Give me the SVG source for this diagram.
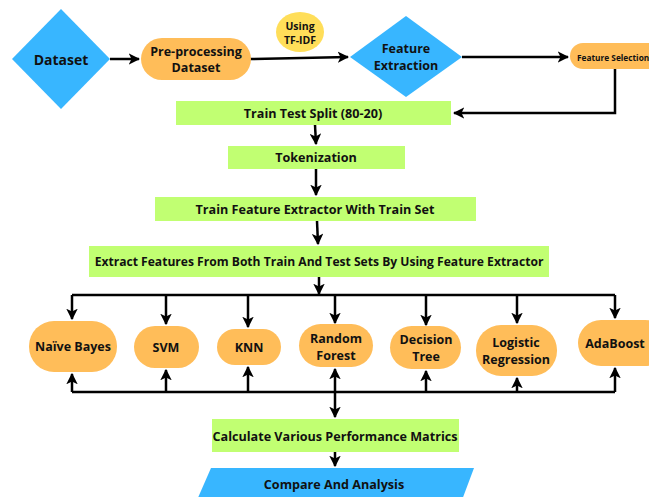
<svg xmlns="http://www.w3.org/2000/svg" width="649" height="497" viewBox="0 0 649 497">
<defs>
<style>
.t{font-family:"Open Sans","Noto Sans","DejaVu Sans",sans-serif;font-weight:700;fill:#111;text-anchor:middle;dominant-baseline:central}
.blue{fill:#38B6FF}
.orange{fill:#FFBD59}
.yellow{fill:#FFDE59}
.green{fill:#C1FF72}
.c{fill:none;stroke:#000;stroke-width:2.5}
</style>
<marker id="ah" viewBox="0 0 10 10" refX="9" refY="5" markerWidth="4.6" markerHeight="4.6" orient="auto" markerUnits="strokeWidth">
<path d="M0,0 L10,5 L0,10 L2.5,5 Z" fill="#000"/>
</marker>
</defs>
<rect width="649" height="497" fill="#fff"/>
<g id="connectors">
<path class="c" d="M110,59 L139,59" marker-end="url(#ah)"/>
<path class="c" d="M250,59 L348,57" marker-end="url(#ah)"/>
<path class="c" d="M462,57 L568,57" marker-end="url(#ah)"/>
<path class="c" d="M615,69 L615,113 L454,113" marker-end="url(#ah)"/>
<path class="c" d="M315,125 L316,144" marker-end="url(#ah)"/>
<path class="c" d="M316,169 L316,195" marker-end="url(#ah)"/>
<path class="c" d="M317,221 L318,244" marker-end="url(#ah)"/>
<path class="c" d="M319,277 L319,294" marker-end="url(#ah)"/>
<path class="c" d="M72,295 L615,295"/>
<path class="c" d="M72,295 L72,319" marker-end="url(#ah)"/>
<path class="c" d="M166,295 L166,324" marker-end="url(#ah)"/>
<path class="c" d="M248,295 L248,327" marker-end="url(#ah)"/>
<path class="c" d="M335,295 L335,323" marker-end="url(#ah)"/>
<path class="c" d="M426,295 L426,325" marker-end="url(#ah)"/>
<path class="c" d="M517,295 L517,323" marker-end="url(#ah)"/>
<path class="c" d="M615,295 L615,318" marker-end="url(#ah)"/>
<path class="c" d="M72,392 L615,392"/>
<path class="c" d="M72,392 L72,374" marker-end="url(#ah)"/>
<path class="c" d="M166,392 L166,370" marker-end="url(#ah)"/>
<path class="c" d="M248,392 L248,367" marker-end="url(#ah)"/>
<path class="c" d="M335,392 L335,369" marker-end="url(#ah)"/>
<path class="c" d="M426,392 L426,371" marker-end="url(#ah)"/>
<path class="c" d="M517,392 L517,378" marker-end="url(#ah)"/>
<path class="c" d="M615,392 L615,368" marker-end="url(#ah)"/>
<path class="c" d="M335,392 L335,417" marker-end="url(#ah)"/>
<path class="c" d="M335,452 L335,466" marker-end="url(#ah)"/>
</g>
<g id="dataset">
<polygon class="blue" points="61,9 110,59 61,109 12,59"/>
<text class="t" x="61" y="59" font-size="14">Dataset</text>
</g>
<g id="preprocessing">
<rect class="orange" x="141" y="38" width="110" height="42" rx="21"/>
<text class="t" x="196" y="51" font-size="12.5">Pre-processing</text>
<text class="t" x="196" y="67" font-size="12.5">Dataset</text>
</g>
<g id="tfidf">
<ellipse class="yellow" cx="300" cy="32" rx="24" ry="20"/>
<text class="t" x="300" y="26" font-size="10.5">Using</text>
<text class="t" x="300" y="40" font-size="10.5">TF-IDF</text>
</g>
<g id="feature-extraction">
<polygon class="blue" points="406,16 462,57 406,97 350,57"/>
<text class="t" x="406" y="48" font-size="12.5">Feature</text>
<text class="t" x="406" y="65" font-size="12.5">Extraction</text>
</g>
<g id="feature-selection">
<rect class="orange" x="570" y="43" width="100" height="26" rx="13"/>
<text class="t" x="577" y="57" font-size="8.3" style="text-anchor:start">Feature Selection</text>
</g>
<g id="train-test-split">
<rect class="green" x="176" y="101" width="275" height="24"/>
<text class="t" x="313" y="113" font-size="12.6">Train Test Split (80-20)</text>
</g>
<g id="tokenization">
<rect class="green" x="228" y="146" width="177" height="23"/>
<text class="t" x="316" y="157.5" font-size="12.6">Tokenization</text>
</g>
<g id="train-feature-extractor">
<rect class="green" x="155" y="197" width="321" height="24"/>
<text class="t" x="315" y="209" font-size="12.6">Train Feature Extractor With Train Set</text>
</g>
<g id="extract-features">
<rect class="green" x="89" y="246" width="460" height="31"/>
<text class="t" x="319" y="261.5" font-size="12.1">Extract Features From Both Train And Test Sets By Using Feature Extractor</text>
</g>
<g id="naive-bayes">
<rect class="orange" x="29" y="321" width="88" height="51" rx="25"/>
<text class="t" x="73" y="346.5" font-size="12.5">Naïve Bayes</text>
</g>
<g id="svm">
<rect class="orange" x="134" y="326" width="65" height="42" rx="21"/>
<text class="t" x="166" y="347" font-size="12.5">SVM</text>
</g>
<g id="knn">
<rect class="orange" x="217" y="329" width="64" height="36" rx="18"/>
<text class="t" x="249" y="347" font-size="12.5">KNN</text>
</g>
<g id="random-forest">
<rect class="orange" x="299" y="324" width="74" height="43" rx="21.5"/>
<text class="t" x="336" y="338" font-size="12.5">Random</text>
<text class="t" x="336" y="355" font-size="12.5">Forest</text>
</g>
<g id="decision-tree">
<rect class="orange" x="390" y="326" width="71" height="43" rx="21.5"/>
<text class="t" x="426" y="339" font-size="12.5">Decision</text>
<text class="t" x="426" y="356" font-size="12.5">Tree</text>
</g>
<g id="logistic-regression">
<rect class="orange" x="476" y="325" width="81" height="51" rx="25"/>
<text class="t" x="516" y="342" font-size="12.5">Logistic</text>
<text class="t" x="516" y="359" font-size="12.5">Regression</text>
</g>
<g id="adaboost">
<rect class="orange" x="578" y="320" width="90" height="46" rx="23"/>
<text class="t" x="615" y="343" font-size="12.5">AdaBoost</text>
</g>
<g id="calculate">
<rect class="green" x="212" y="419" width="247" height="33"/>
<text class="t" x="335" y="436" font-size="12.6">Calculate Various Performance Matrics</text>
</g>
<g id="compare">
<polygon class="blue" points="211,468 474,468 462,500 197,500"/>
<text class="t" x="334" y="484" font-size="12.6">Compare And Analysis</text>
</g>
</svg>
